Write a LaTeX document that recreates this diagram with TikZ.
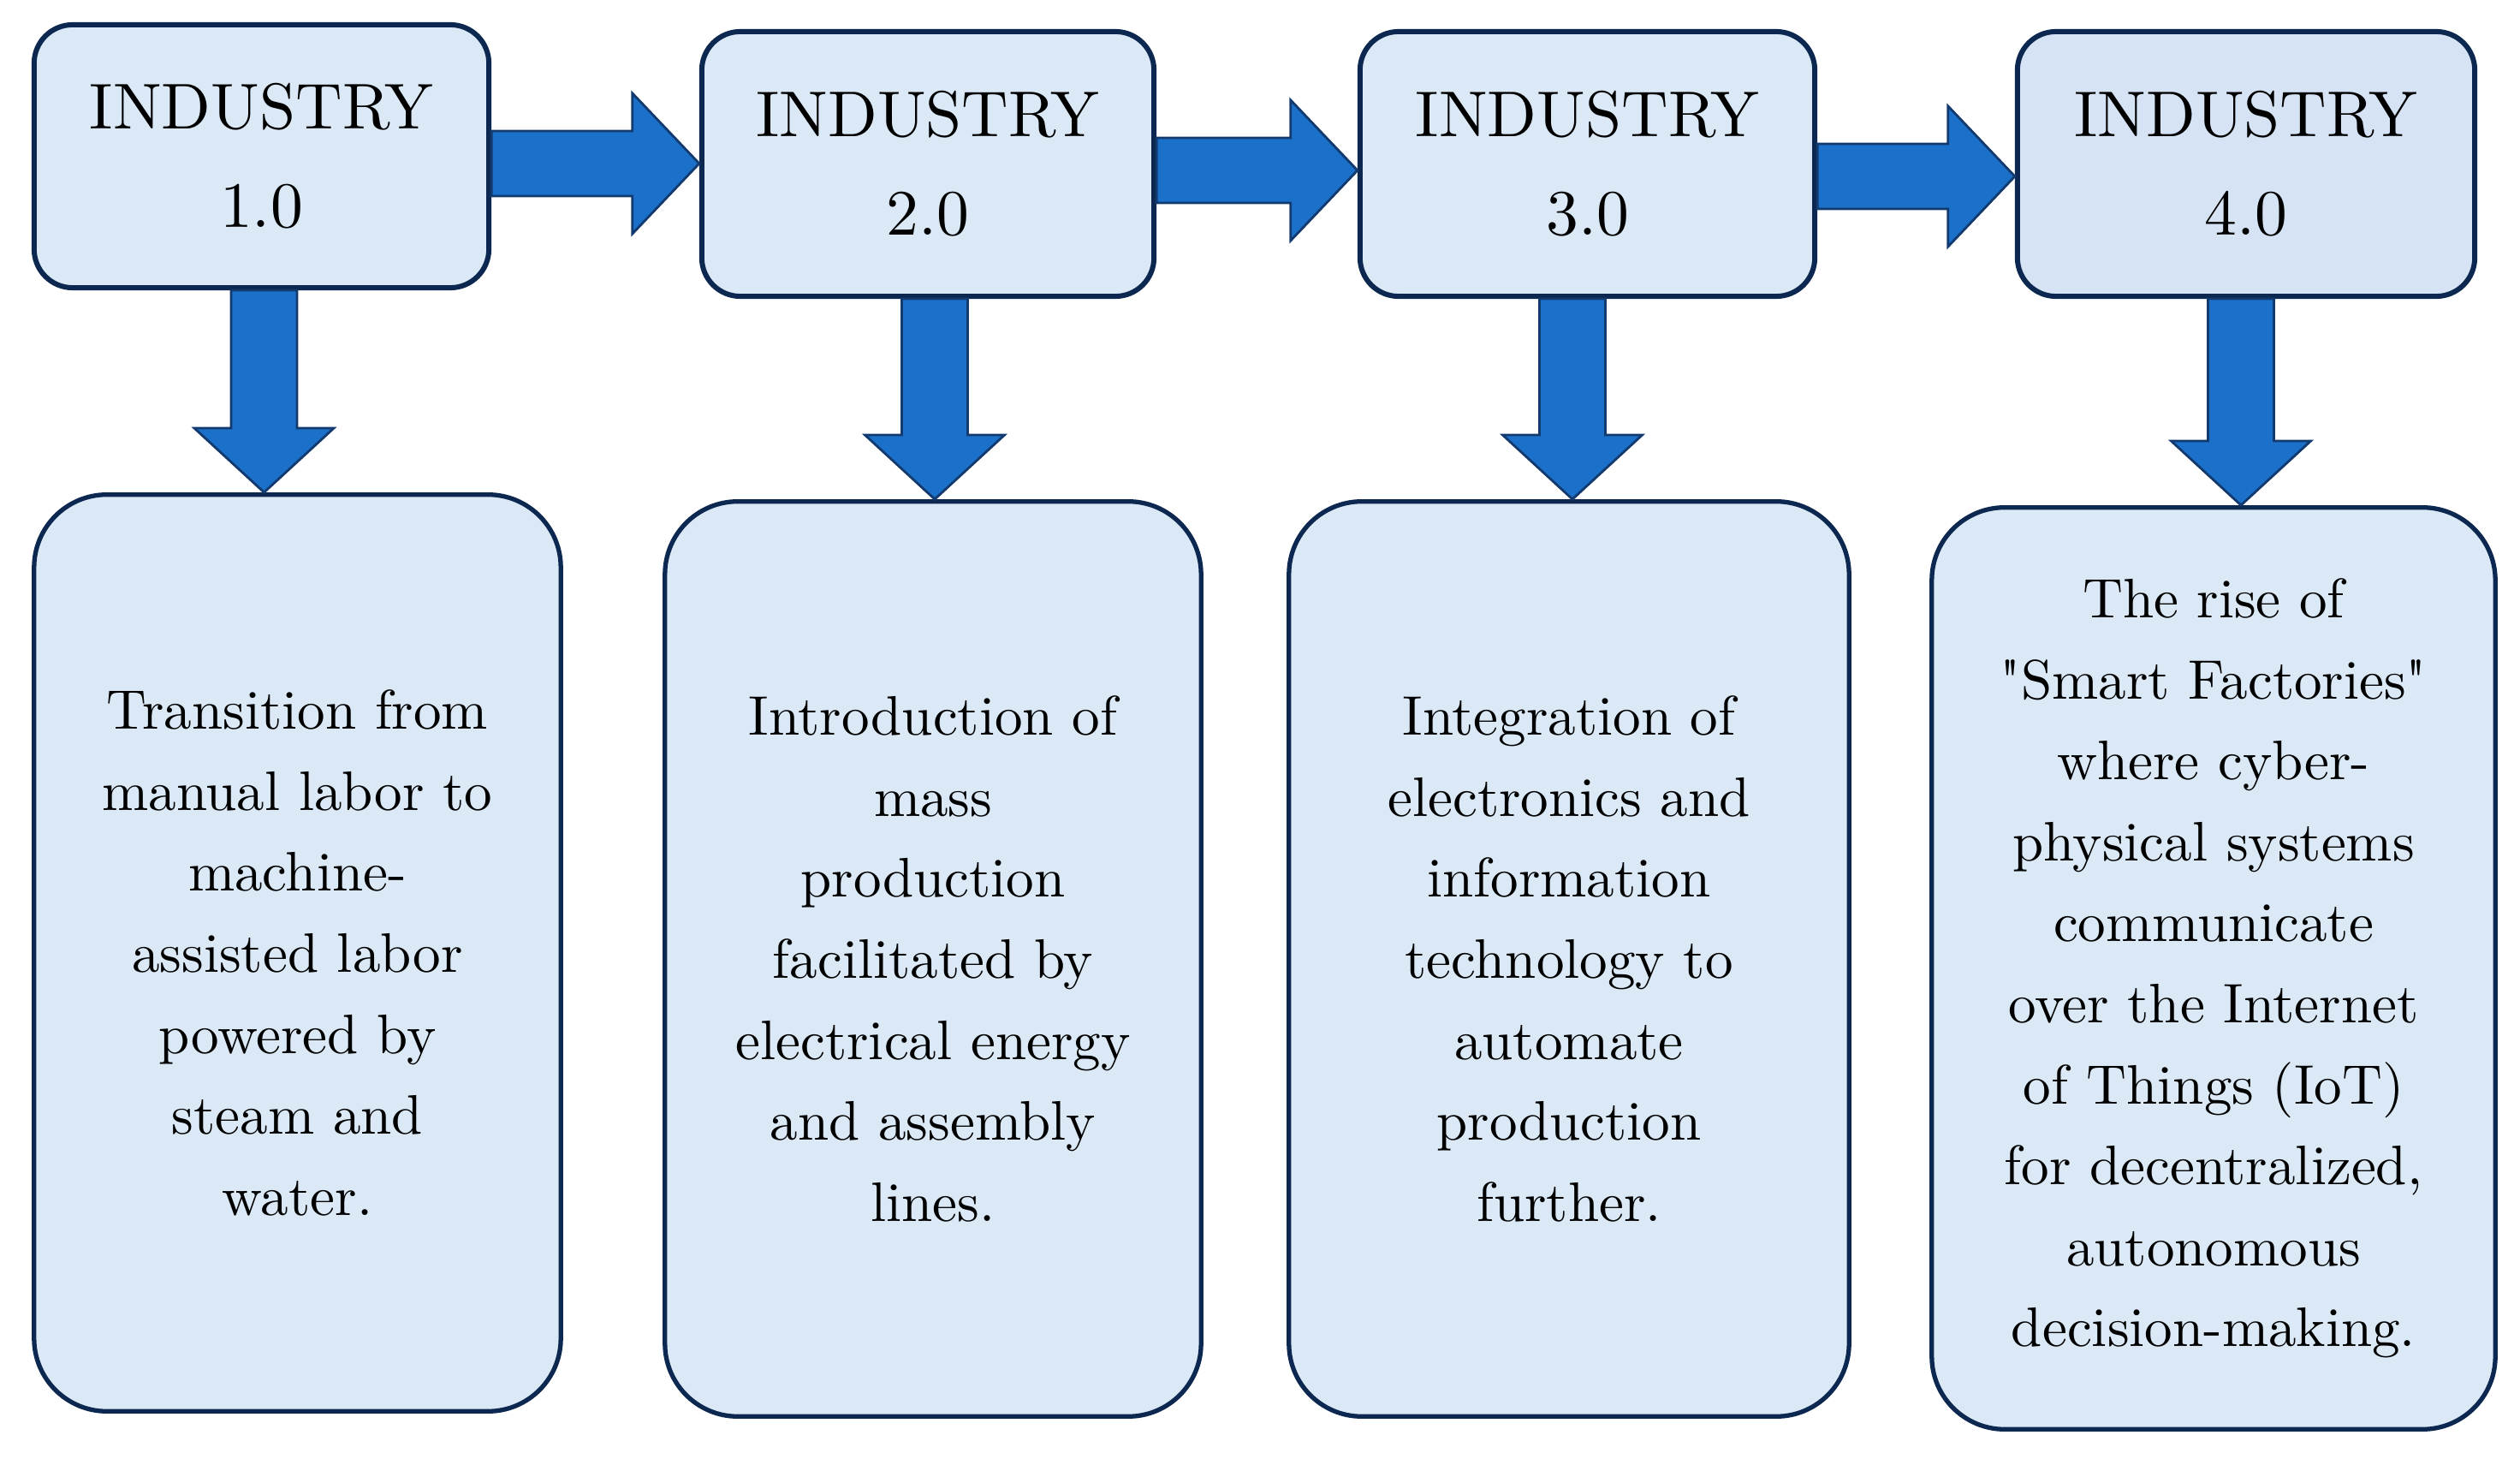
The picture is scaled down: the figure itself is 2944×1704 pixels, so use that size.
\documentclass[tikz,border=0pt]{standalone}
\usepackage{fontspec}
\setmainfont{lmroman10-regular.otf}[Ligatures=TeXOff]
\usetikzlibrary{calc}
\definecolor{boxfill}{RGB}{219,233,247}
\definecolor{boxfillb}{RGB}{214,227,244}
\definecolor{boxline}{RGB}{12,40,80}
\definecolor{arrowfill}{RGB}{27,113,202}
\definecolor{arrowline}{RGB}{18,58,110}
\tikzset{
  stagebox/.style={draw=boxline, fill=boxfill, line width=1.7pt, rounded corners=0.45cm,
    align=center, inner sep=0pt, font=\fontsize{21.5}{32.7}\selectfont},
  descbox/.style={draw=boxline, fill=boxfill, line width=1.5pt, rounded corners=0.85cm,
    align=center, inner sep=0pt, font=\fontsize{18.5}{26.9}\selectfont},
  blockarrow/.style={fill=arrowfill, draw=arrowline, line width=0.8pt, line join=miter},
}
\newcommand{\rightblock}[3]{%
  \draw[blockarrow] let \p1=(#1.east), \p2=(#2.west), \p3=(0,#3) in
    (\x1,\y3+0.38cm) -- (\x2-0.78cm,\y3+0.38cm) -- (\x2-0.78cm,\y3+0.82cm) -- (\x2,\y3)
    -- (\x2-0.78cm,\y3-0.82cm) -- (\x2-0.78cm,\y3-0.38cm) -- (\x1,\y3-0.38cm) -- cycle;}
\newcommand{\downblock}[3]{%
  \draw[blockarrow] let \p1=(#1.south), \p2=(#2.north), \p3=(#3,0) in
    (\x3-0.385cm,\y1) -- (\x3-0.385cm,\y2+0.75cm) -- (\x3-0.815cm,\y2+0.75cm) -- (\x3,\y2)
    -- (\x3+0.815cm,\y2+0.75cm) -- (\x3+0.385cm,\y2+0.75cm) -- (\x3+0.385cm,\y1) -- cycle;}
\begin{document}
\begin{tikzpicture}[x=0.01cm, y=-0.01cm]
\useasboundingbox (0,0) rectangle (2944,1704);

% top stage boxes
\node[stagebox, minimum width=5.31cm, minimum height=3.07cm] (t1) at (305.5,182.5) {INDUSTRY\\1.0};
\node[stagebox, minimum width=5.28cm, minimum height=3.09cm] (t2) at (1084,191.5) {INDUSTRY\\2.0};
\node[stagebox, minimum width=5.31cm, minimum height=3.09cm] (t3) at (1854.5,191.5) {INDUSTRY\\3.0};
\node[stagebox, fill=boxfillb, minimum width=5.34cm, minimum height=3.09cm] (t4) at (2624,191.5) {INDUSTRY\\4.0};

% description boxes
\node[descbox, minimum width=6.15cm, minimum height=10.70cm] (b1) at (347.5,1113)
  {Transition from\\manual labor to\\machine-\\assisted labor\\powered by\\steam and\\water.};
\node[descbox, minimum width=6.26cm, minimum height=10.68cm] (b2) at (1090,1120)
  {Introduction of\\mass\\production\\facilitated by\\electrical energy\\and assembly\\lines.};
\node[descbox, minimum width=6.54cm, minimum height=10.68cm] (b3) at (1833,1120)
  {Integration of\\electronics and\\information\\technology to\\automate\\production\\further.};
\node[descbox, minimum width=6.58cm, minimum height=10.76cm] (b4) at (2586,1131)
  {The rise of\\"Smart Factories"\\where cyber-\\physical systems\\communicate\\over the Internet\\of Things (IoT)\\for decentralized,\\autonomous\\decision-making.};

% horizontal block arrows
\rightblock{t1}{t2}{191}
\rightblock{t2}{t3}{199}
\rightblock{t3}{t4}{206}

% vertical block arrows
\downblock{t1}{b1}{308.5}
\downblock{t2}{b2}{1092}
\downblock{t3}{b3}{1837}
\downblock{t4}{b4}{2618}
\end{tikzpicture}
\end{document}
